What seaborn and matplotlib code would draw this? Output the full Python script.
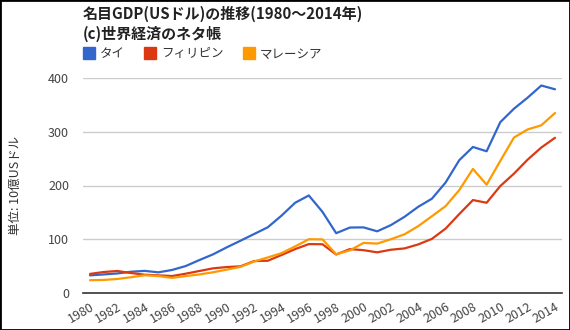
import numpy as np
import pandas as pd
import matplotlib
matplotlib.use("Agg")
import matplotlib.pyplot as plt
import seaborn as sns
from matplotlib.lines import Line2D
from matplotlib.patches import Rectangle

years = list(range(1980, 2015))
thailand = [33.3, 35.0, 36.8, 40.0, 41.6, 38.9, 43.3, 50.6, 61.7, 72.3, 85.3, 97.5,
            110.0, 122.5, 144.0, 168.0, 181.5, 151.0, 111.5, 122.0, 122.3, 115.0,
            126.5, 142.0, 160.5, 175.5, 205.5, 247.0, 271.5, 263.5, 317.5, 342.5,
            363.0, 385.5, 378.5]
philippines = [36.0, 39.5, 41.4, 37.6, 34.5, 33.3, 32.0, 36.4, 41.4, 46.3, 48.7, 50.0,
               59.8, 60.4, 71.0, 82.0, 91.3, 91.0, 72.0, 82.0, 80.0, 76.0, 80.8, 83.3,
               90.7, 101.0, 120.0, 147.0, 173.0, 168.0, 199.0, 222.0, 248.0, 270.5,
               288.5]
malaysia = [24.3, 24.8, 26.6, 29.8, 33.5, 32.0, 28.6, 32.0, 35.0, 39.0, 44.0, 49.0,
            59.0, 66.5, 74.5, 87.0, 100.3, 100.0, 72.5, 79.6, 93.5, 92.2, 100.3,
            109.5, 124.6, 143.0, 161.7, 191.5, 230.8, 201.5, 245.6, 289.0, 304.0,
            311.7, 334.5]
series_names = ["タイ", "フィリピン", "マレーシア"]
colors = ["#3366CC", "#DC3912", "#FF9900"]
x_ticks = list(range(1980, 2015, 2))
y_ticks = [0, 100, 200, 300, 400]
title = "名目GDP(USドル)の推移(1980～2014年)\n(c)世界経済のネタ帳"
ylabel = "単位: 10億USドル"

df = pd.DataFrame({
    "year": years * 3,
    "value": thailand + philippines + malaysia,
    "country": [series_names[0]] * len(years) + [series_names[1]] * len(years)
               + [series_names[2]] * len(years),
})

sns.set_style("white")
plt.rcParams["font.family"] = ["Noto Sans CJK JP", "DejaVu Sans"]

W, H = 570, 330
fig = plt.figure(figsize=(W / 100, H / 100), dpi=100)
ax = fig.add_axes([83 / W, 1 - 293.3 / H, 479 / W, (293.3 - 77.7) / H])

sns.lineplot(data=df, x="year", y="value", hue="country", palette=colors,
             hue_order=series_names, linewidth=1.6, ax=ax, legend=False)

ax.set_xlim(1980 - 7 / 13.68, 2014 + 7 / 13.68)
ax.set_ylim(0, 400)
ax.set_yticks(y_ticks)
ax.set_xticks(x_ticks)
ax.set_xticklabels([str(t) for t in x_ticks], rotation=30, ha="right",
                   rotation_mode="anchor")
ax.tick_params(axis="both", length=0, labelsize=9, labelcolor="#444444")
ax.tick_params(axis="y", pad=10)
ax.tick_params(axis="x", pad=5)
ax.grid(axis="y", color="#cccccc", linewidth=1)
ax.set_axisbelow(True)
for s in ["left", "right", "top"]:
    ax.spines[s].set_visible(False)
ax.spines["bottom"].set_color("#333333")
ax.spines["bottom"].set_linewidth(1.2)
ax.spines["bottom"].set_zorder(5)
ax.set_xlabel("")
ax.set_ylabel(ylabel, fontsize=9, color="#333333")
ax.yaxis.set_label_coords((22 - 83) / 479, 0.5)

fig.text(83 / W, 1 - 6 / H, title, fontsize=10.8, fontweight="bold",
         color="#222222", ha="left", va="top", linespacing=1.3)

handles = [Line2D([], [], marker="s", linestyle="none", markersize=8.8,
                  markerfacecolor=c, markeredgecolor=c) for c in colors]
fig.legend(handles, series_names, loc="center left",
           bbox_to_anchor=(83 / W, 1 - 54 / H), ncol=3, frameon=False,
           fontsize=9, labelcolor="#333333", handlelength=0.9,
           handletextpad=0.45, columnspacing=1.55, borderaxespad=0, borderpad=0)

fig.add_artist(Rectangle((0, 0), 1, 1, transform=fig.transFigure, fill=False,
                         edgecolor="black", linewidth=2))

fig.savefig("out.png", dpi=100)
